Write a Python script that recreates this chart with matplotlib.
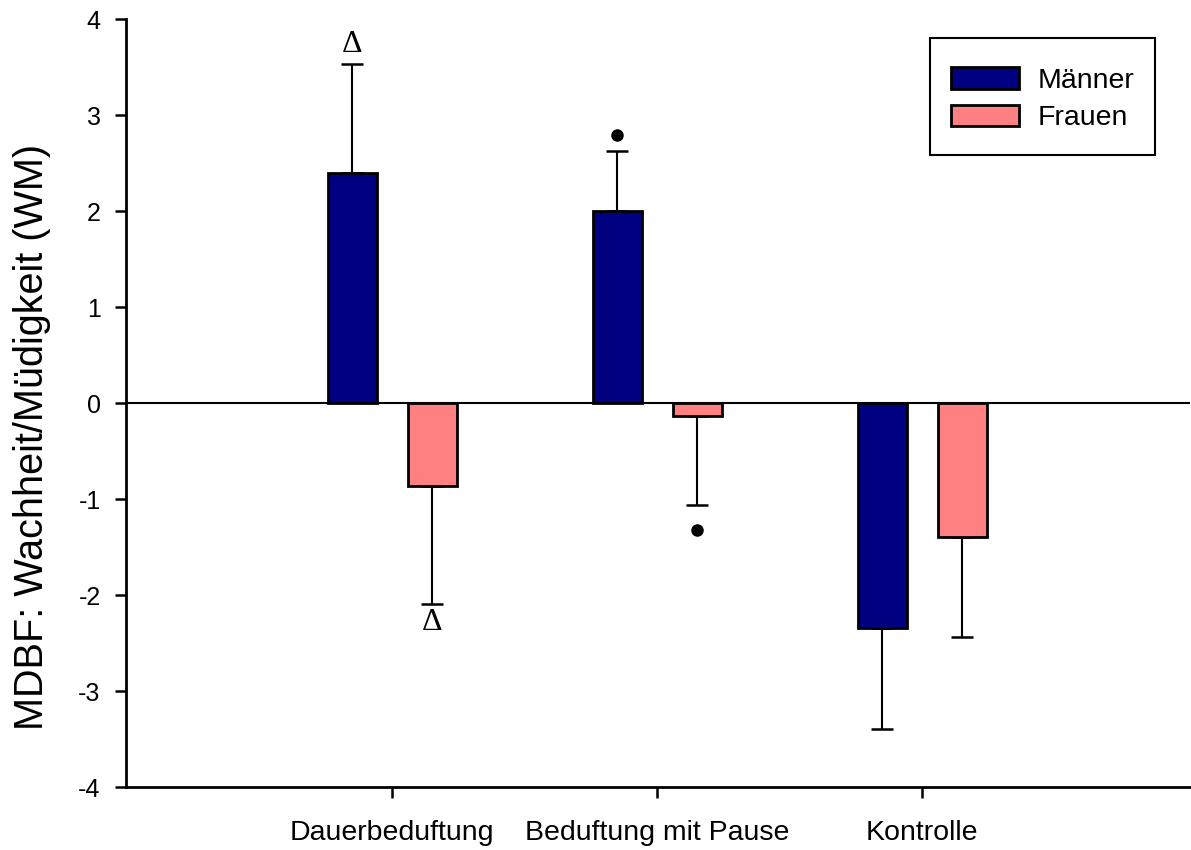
import numpy as np
import matplotlib.pyplot as plt
from matplotlib.patches import Rectangle

# MDBF Wachheit/Müdigkeit: Differenzen nach Gruppe und Geschlecht
gruppen = ['Dauerbeduftung', 'Beduftung mit Pause', 'Kontrolle']
maenner = [2.40, 2.00, -2.34]
maenner_err = [1.13, 0.625, 1.06]
frauen = [-0.865, -0.135, -1.40]
frauen_err = [1.225, 0.925, 1.04]

# Signifikanzzeichen pro Balken (None = keins)
sig_maenner = ['Δ', '•', None]
sig_frauen = ['Δ', '•', None]

plt.rcParams['font.family'] = ['Liberation Sans', 'DejaVu Sans']
plt.rcParams['axes.unicode_minus'] = False

W, H = 1191, 850
fig = plt.figure(figsize=(W / 100, H / 100), dpi=100)
ax = fig.add_axes([0.1055, 0.0741, 0.8937, 0.9035])

x = np.arange(len(gruppen))
breite = 0.185
versatz = 0.151

def balken(pos, werte, fehler, farbe, label, zeichen):
    ax.bar(pos, werte, breite, color=farbe, edgecolor='black', linewidth=2,
           label=label, zorder=3)
    # Fehlerbalken nur in Richtung vom Nullpunkt weg
    for xi, w, e, z in zip(pos, werte, fehler, zeichen):
        s = 1 if w >= 0 else -1
        ax.errorbar(xi, w, yerr=[[0], [e]] if s > 0 else [[e], [0]],
                    fmt='none', ecolor='black', elinewidth=1.5,
                    capsize=8, capthick=1.8, zorder=2)
        spitze = w + s * e
        if z == 'Δ':
            ax.text(xi, spitze + s * 0.2, 'Δ', ha='center', va='center',
                    fontsize=23, family=['Liberation Serif'], zorder=4)
        elif z == '•':
            off = 0.165 if s > 0 else 0.26
            ax.plot(xi, spitze + s * off, 'o', color='black', markersize=8,
                    zorder=4)

balken(x - versatz, maenner, maenner_err, '#000080', 'Männer', sig_maenner)
balken(x + versatz, frauen, frauen_err, '#FF8080', 'Frauen', sig_frauen)

ax.axhline(0, color='black', linewidth=1.5, zorder=1)

ax.set_xlim(-1.005, 3.01)
ax.set_ylim(-4, 4)
ax.set_yticks(range(-4, 5))
ax.set_xticks(x)
ax.set_xticklabels(gruppen, fontsize=20.5)
ax.tick_params(axis='y', labelsize=18, length=8, width=1.8, pad=10)
ax.tick_params(axis='x', length=8, width=1.8, pad=16)
ax.set_ylabel('MDBF: Wachheit/Müdigkeit (WM)', fontsize=28.5, va='center')
ax.yaxis.set_label_coords(-0.088, 0.456)

for side in ['top', 'right']:
    ax.spines[side].set_visible(False)
for side in ['left', 'bottom']:
    ax.spines[side].set_linewidth(2)

# Legende ohne eigenen Rahmen, Rahmen separat gezeichnet
leg = fig.legend(*ax.get_legend_handles_labels(), loc='upper left',
                 bbox_to_anchor=(951 / W, 1 - 67 / H), fontsize=20.5,
                 frameon=False, borderpad=0, borderaxespad=0,
                 handlelength=2.4, handleheight=0.8, handletextpad=0.63,
                 labelspacing=0.38)
fig.patches.append(Rectangle((930 / W, 1 - 155 / H), 225 / W, 117 / H,
                             transform=fig.transFigure, fill=False,
                             edgecolor='black', linewidth=1.5))

fig.savefig('out.png', dpi=100)
